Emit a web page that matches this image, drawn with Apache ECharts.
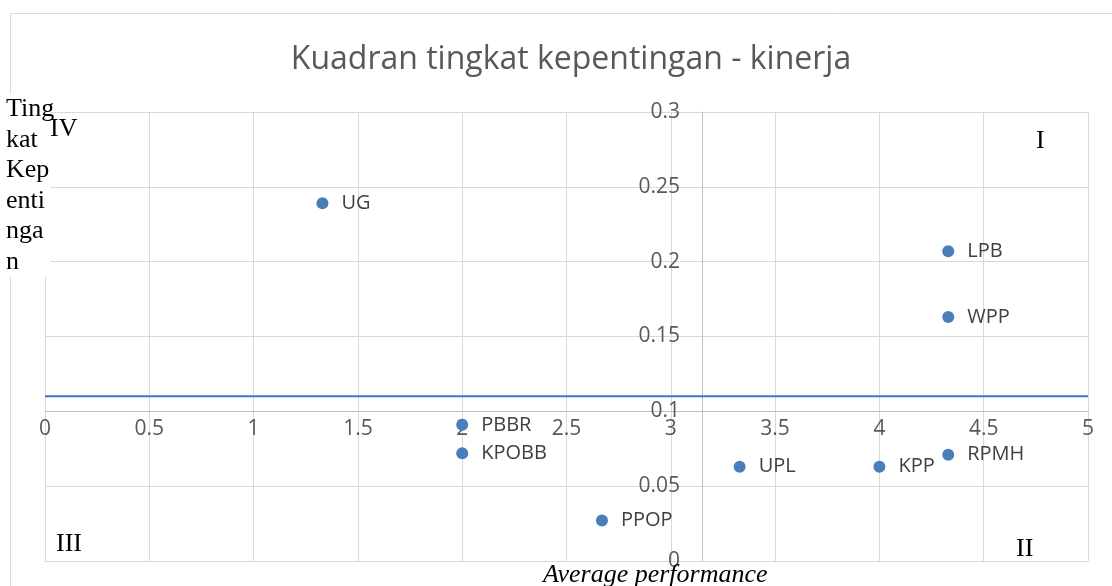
<!DOCTYPE html>
<html>
<head>
<meta charset="utf-8">
<script src="https://cdn.jsdelivr.net/npm/echarts@6/dist/echarts.min.js"></script>
<style>
html,body{margin:0;padding:0;background:#fff;}
#main{width:1112px;height:586px;}
</style>
</head>
<body>
<div id="main"></div>
<script>
// data
var names = ['UG', 'LPB', 'WPP', 'PBBR', 'KPOBB', 'PPOP', 'UPL', 'KPP', 'RPMH'];
var performance = [1.33, 4.33, 4.33, 2.0, 2.0, 2.67, 3.33, 4.0, 4.33];
var importance = [0.239, 0.207, 0.163, 0.091, 0.072, 0.027, 0.063, 0.063, 0.071];
var importanceCut = 0.11;      // blue horizontal line
var performanceCross = 3.15;   // where the vertical axis crosses
var importanceCross = 0.1;     // where the horizontal axis crosses
var xMin = 0, xMax = 5, xStep = 0.5;
var yMin = 0, yMax = 0.3, yStep = 0.05;

var chart = echarts.init(document.getElementById('main'));

var grid = {left: 45, right: 24, top: 112, bottom: 25};
var gridW = 1112 - grid.left - grid.right;
var gridH = 586 - grid.top - grid.bottom;

var points = names.map(function (n, i) {
  return {name: n, value: [performance[i], importance[i]]};
});

var sans = '"Open Sans", sans-serif';
var serif = '"Liberation Serif", "DejaVu Serif", serif';

var option = {
  backgroundColor: '#fff',
  animation: false,
  title: {
    text: 'Kuadran tingkat kepentingan - kinerja',
    left: 566,
    top: 39,
    textAlign: 'center',
    textStyle: {color: '#595959', fontFamily: sans, fontSize: 32, fontWeight: 'normal'}
  },
  grid: grid,
  xAxis: {
    type: 'value',
    min: xMin, max: xMax, interval: xStep,
    offset: -(importanceCross - yMin) / (yMax - yMin) * gridH,
    axisLine: {onZero: false, lineStyle: {color: '#bfbfbf', width: 1}},
    axisTick: {show: false},
    axisLabel: {color: '#595959', fontSize: 21, fontFamily: sans, margin: 7},
    splitLine: {lineStyle: {color: '#d9d9d9', width: 1}}
  },
  yAxis: {
    type: 'value',
    min: yMin, max: yMax, interval: yStep,
    offset: -(performanceCross - xMin) / (xMax - xMin) * gridW,
    axisLine: {show: true, onZero: false, lineStyle: {color: '#bfbfbf', width: 1}},
    axisTick: {show: false},
    axisLabel: {color: '#595959', fontSize: 21, fontFamily: sans, margin: 22},
    splitLine: {lineStyle: {color: '#d9d9d9', width: 1}}
  },
  series: [
    {
      type: 'line',
      data: [[xMin, importanceCut], [xMax, importanceCut]],
      symbol: 'none',
      lineStyle: {color: '#4472c4', width: 2},
      z: 1
    },
    {
      type: 'scatter',
      data: points,
      symbolSize: 12,
      itemStyle: {color: '#4a7ebb', opacity: 1},
      label: {
        show: true,
        position: 'right',
        distance: 13,
        formatter: '{b}',
        color: '#404040',
        fontSize: 20,
        fontFamily: sans
      },
      z: 3
    }
  ],
  graphic: [
    {type: 'rect', shape: {x: 10.5, y: 13.5, width: 1110, height: 600}, style: {fill: 'none', stroke: '#d9d9d9', lineWidth: 1}, z: -1},
    {type: 'text', left: 6, top: 94, z: 100, style: {text: 'Ting\nkat\nKep\nenti\nnga\nn', font: '26px ' + serif, lineHeight: 30.5, fill: '#000', backgroundColor: '#fff', width: 44, overflow: 'none'}},
    {type: 'text', left: 50, top: 116, z: 100, style: {text: 'IV', font: '26px ' + serif, fill: '#000'}},
    {type: 'text', left: 1036, top: 128, z: 100, style: {text: 'I', font: '26px ' + serif, fill: '#000'}},
    {type: 'text', left: 56, top: 531, z: 100, style: {text: 'III', font: '26px ' + serif, fill: '#000'}},
    {type: 'text', left: 1016, top: 536, z: 100, style: {text: 'II', font: '26px ' + serif, fill: '#000'}},
    {type: 'text', left: 543, top: 562, z: 100, style: {text: 'Average performance', font: 'italic 26px ' + serif, fill: '#000'}}
  ]
};

chart.setOption(option);
</script>
</body>
</html>
